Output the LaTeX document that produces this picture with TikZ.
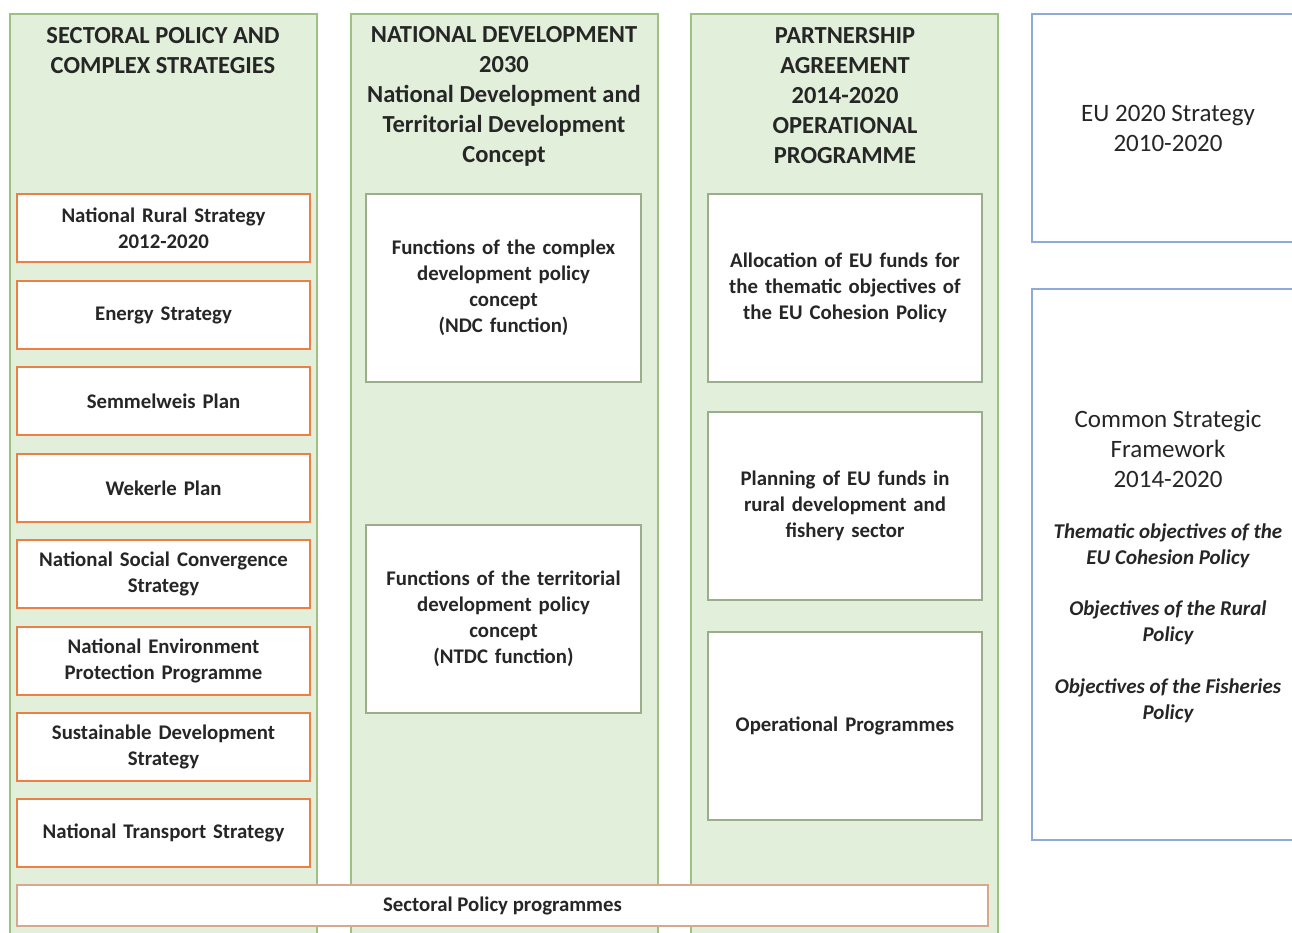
\documentclass[tikz,border=0pt]{standalone}
\usepackage{fontspec}
\setmainfont{Carlito}
\definecolor{colfill}{HTML}{E2EFDA}
\definecolor{colline}{HTML}{9DC183}
\definecolor{orangeline}{HTML}{EB8045}
\definecolor{innerline}{HTML}{9BAE8C}
\definecolor{blueline}{HTML}{8EAADB}
\definecolor{barline}{HTML}{D8A88E}
\definecolor{txt}{HTML}{262626}
\begin{document}
\begin{tikzpicture}[x=1pt,y=-1pt,
  every node/.style={text=txt, inner sep=0pt, outer sep=0pt},
  col/.style={draw=colline, line width=1.5pt, fill=colfill, anchor=north west, minimum width=307pt, minimum height=935pt},
  head/.style={align=center, font=\bfseries\fontsize{24.5}{30}\selectfont},
  obox/.style={draw=orangeline, line width=2.5pt, fill=white, anchor=north west, minimum width=293pt, minimum height=68pt, text width=290pt, align=center, font=\bfseries\fontsize{20.8}{26}\selectfont},
  gbox/.style={draw=innerline, line width=1.3pt, fill=white, anchor=north west, minimum width=275pt, minimum height=188pt, text width=272pt, align=center, font=\bfseries\fontsize{20.8}{26}\selectfont},
  bbox/.style={draw=blueline, line width=1.8pt, fill=white, anchor=north west, minimum width=280pt},
  rtext/.style={align=center, font=\fontsize{25}{30}\selectfont},
  itext/.style={align=center, font=\bfseries\itshape\fontsize{21}{26}\selectfont}
]
\useasboundingbox (0,0) rectangle (1292,933);
\clip (0,0) rectangle (1292,933);
\fill[white] (0,0) rectangle (1292,933);

% columns
\node[col] (c1) at (10,14) {};
\node[col] (c2) at (351,14) {};
\node[col] (c3) at (691,14) {};

\node[head] (h1) at (163,51) {SECTORAL POLICY AND\\COMPLEX STRATEGIES};
\node[head] (h2) at (504,96) {NATIONAL DEVELOPMENT\\2030\\National Development and\\Territorial Development\\Concept};
\node[head] (h3) at (845,96) {PARTNERSHIP\\AGREEMENT\\2014-2020\\OPERATIONAL\\PROGRAMME};

% left column boxes
\node[obox] (s1) at (17,194) {National Rural Strategy\\2012-2020};
\node[obox] (s2) at (17,281) {Energy Strategy};
\node[obox] (s3) at (17,367) {Semmelweis Plan};
\node[obox] (s4) at (17,454) {Wekerle Plan};
\node[obox] (s5) at (17,540) {National Social Convergence\\Strategy};
\node[obox] (s6) at (17,627) {National Environment\\Protection Programme};
\node[obox] (s7) at (17,713) {Sustainable Development\\Strategy};
\node[obox] (s8) at (17,799) {National Transport Strategy};

% middle column boxes
\node[gbox] (n1) at (366,194) {Functions of the complex\\development policy\\concept\\(NDC function)};
\node[gbox] (n2) at (366,525) {Functions of the territorial\\development policy\\concept\\(NTDC function)};

% third column boxes
\node[gbox, minimum width=274pt] (p1) at (708,194) {Allocation of EU funds for\\the thematic objectives of\\the EU Cohesion Policy};
\node[gbox, minimum width=274pt] (p2) at (708,412) {Planning of EU funds in\\rural development and\\fishery sector};
\node[gbox, minimum width=274pt] (p3) at (708,632) {Operational Programmes};

% bottom bar
\node[draw=barline, line width=1.3pt, fill=white, anchor=north west, minimum width=971pt, minimum height=41pt, font=\bfseries\fontsize{20.8}{26}\selectfont] (bar) at (17,885) {Sectoral Policy programmes};

% right boxes
\node[bbox, minimum height=228pt] (e1) at (1032,14) {};
\node[rtext] (e1t) at (1168,128) {EU 2020 Strategy\\2010-2020};
\node[bbox, minimum height=551pt] (e2) at (1032,289) {};
\node[rtext] (e2t) at (1168,449) {Common Strategic\\Framework\\2014-2020};
\node[itext] (e2a) at (1168,546) {Thematic objectives of the\\EU Cohesion Policy};
\node[itext] (e2b) at (1168,623) {Objectives of the Rural\\Policy};
\node[itext] (e2c) at (1168,701) {Objectives of the Fisheries\\Policy};
\end{tikzpicture}
\end{document}
